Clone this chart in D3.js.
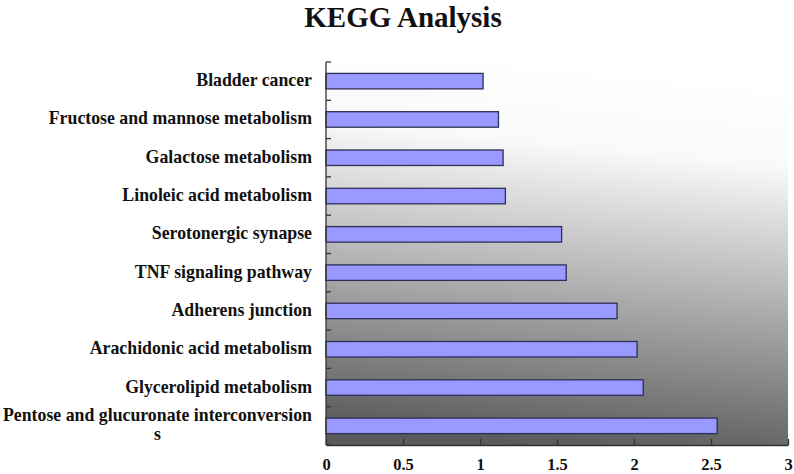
<!DOCTYPE html>
<html>
<head>
<meta charset="utf-8">
<script src="https://cdn.jsdelivr.net/npm/d3@7/dist/d3.min.js"></script>
<style>
  html, body { margin: 0; padding: 0; background: #fff; }
  svg { display: block; }
  text { font-family: "Liberation Serif", "Times New Roman", serif; font-weight: bold; fill: #111; }
</style>
</head>
<body>
<svg id="chart" width="794" height="474"></svg>
<script>
const categories = [
  "Bladder cancer",
  "Fructose and mannose metabolism",
  "Galactose metabolism",
  "Linoleic acid metabolism",
  "Serotonergic synapse",
  "TNF signaling pathway",
  "Adherens junction",
  "Arachidonic acid metabolism",
  "Glycerolipid metabolism",
  "Pentose and glucuronate interconversion\ns"
];
const values = [1.02, 1.12, 1.15, 1.165, 1.53, 1.56, 1.89, 2.02, 2.06, 2.54];
const xTicks = [0, 0.5, 1, 1.5, 2, 2.5, 3];
const xTickLabels = ["0", "0.5", "1", "1.5", "2", "2.5", "3"];
const title = "KEGG Analysis";

const svg = d3.select("#chart");
const plot = { left: 326, right: 788, top: 62, bottom: 445 };

const x = d3.scaleLinear().domain([0, 3]).range([plot.left, plot.right]);
const yb = d3.scaleBand().domain(categories).range([plot.top, plot.bottom]);

// background gradient
const defs = svg.append("defs");
const grad = defs.append("linearGradient").attr("id", "bg")
  .attr("x1", "0.56").attr("y1", "0").attr("x2", "0.44").attr("y2", "1");
grad.append("stop").attr("offset", "0").attr("stop-color", "#ffffff");
grad.append("stop").attr("offset", "0.22").attr("stop-color", "#f9f9f9");
grad.append("stop").attr("offset", "1").attr("stop-color", "#5a5a5a");

svg.append("rect")
  .attr("x", plot.left).attr("y", plot.top)
  .attr("width", plot.right - plot.left).attr("height", plot.bottom - plot.top)
  .attr("fill", "url(#bg)");

// title
svg.append("text")
  .attr("x", 403).attr("y", 26.5)
  .attr("text-anchor", "middle")
  .style("font-size", "29px")
  .text(title);

// bars
svg.append("g").selectAll("rect").data(categories).join("rect")
  .attr("x", x(0))
  .attr("y", d => yb(d) + (yb.bandwidth() - 15.5) / 2)
  .attr("width", (d, i) => x(values[i]) - x(0))
  .attr("height", 15.5)
  .attr("fill", "#9999ff")
  .attr("stroke", "#2e2e5a")
  .attr("stroke-width", 1.3);

// y axis (ticks pointing inside)
const yTickPos = categories.map(c => yb(c)).concat([plot.bottom]);
const yAxis = svg.append("g");
yAxis.append("line")
  .attr("x1", plot.left).attr("x2", plot.left)
  .attr("y1", plot.top).attr("y2", plot.bottom)
  .attr("stroke", "#333").attr("stroke-width", 1.3);
yAxis.selectAll("line.tk").data(yTickPos).join("line").attr("class", "tk")
  .attr("x1", plot.left).attr("x2", plot.left + 5)
  .attr("y1", d => d).attr("y2", d => d)
  .attr("stroke", "#333").attr("stroke-width", 1.3);

// y labels
const labelRight = 312;
const lab = svg.append("g").selectAll("text").data(categories).join("text")
  .style("font-size", "17.8px");
lab.each(function(d) {
  const t = d3.select(this);
  const lines = d.split("\n");
  const cy = yb(d) + yb.bandwidth() / 2;
  if (lines.length === 1) {
    t.attr("x", labelRight).attr("y", cy + 5).attr("text-anchor", "end").text(lines[0]);
  } else {
    const t1 = t.append("tspan").attr("x", labelRight).attr("y", cy - 5).attr("text-anchor", "end").text(lines[0]);
    const w = t1.node().getComputedTextLength();
    t.append("tspan").attr("x", labelRight - w / 2).attr("y", cy + 14).attr("text-anchor", "middle").text(lines[1]);
  }
});

// x axis
const xAxis = d3.axisBottom(x).tickValues(xTicks).tickSizeInner(-6).tickSizeOuter(0)
  .tickFormat((d, i) => xTickLabels[i]);
const gx = svg.append("g").attr("transform", `translate(0,${plot.bottom})`).call(xAxis);
gx.select(".domain").attr("stroke", "#333").attr("stroke-width", 1.3);
gx.selectAll(".tick line").attr("stroke", "#333").attr("stroke-width", 1.3);
gx.selectAll(".tick text")
  .attr("y", 25).attr("dy", 0)
  .style("font-size", "16.5px")
  .style("font-family", "'Liberation Serif', 'Times New Roman', serif")
  .style("font-weight", "bold")
  .attr("fill", "#111");
</script>
</body>
</html>
